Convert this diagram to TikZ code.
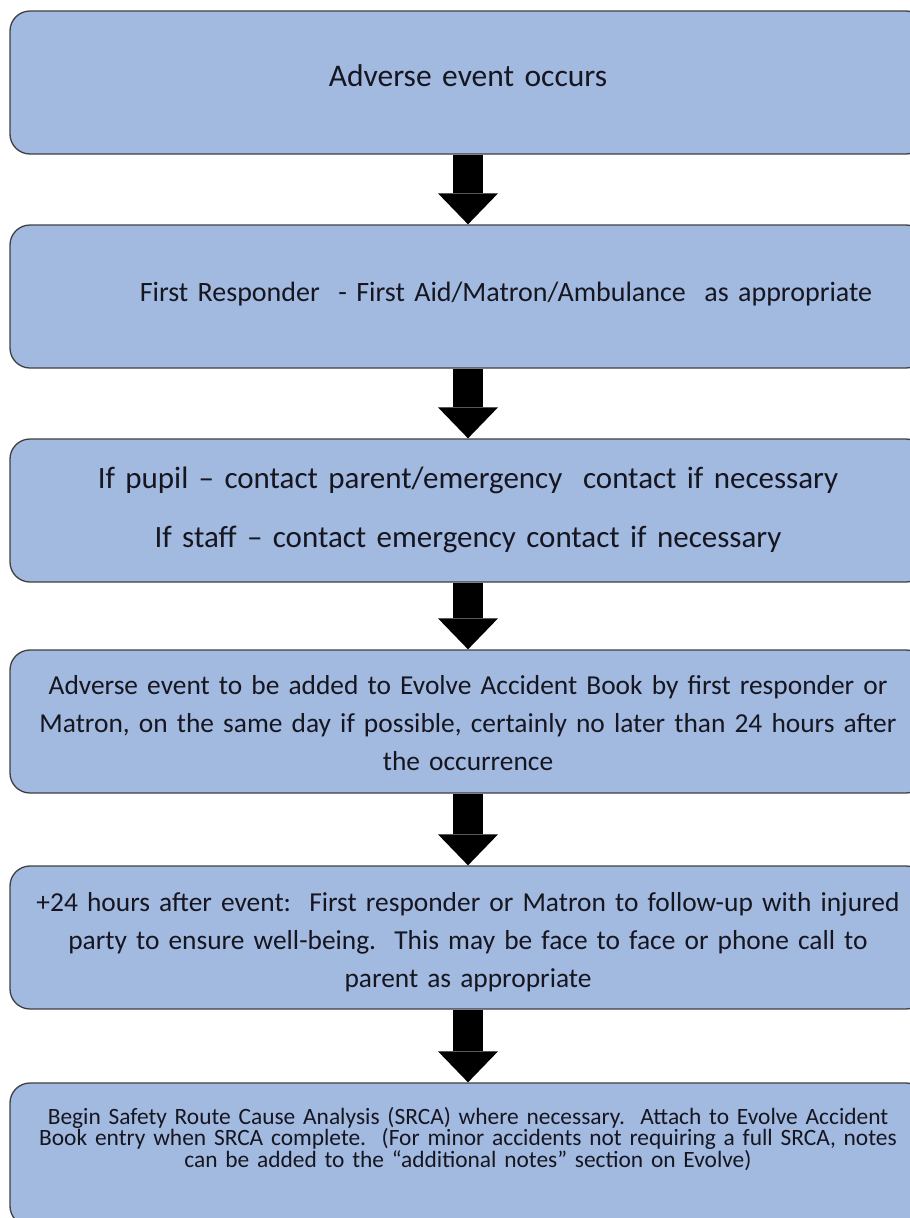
\documentclass[tikz,border=0pt]{standalone}
\usepackage{fontspec}
\setmainfont{Carlito}
\usepackage{tikz}
\usetikzlibrary{positioning,arrows.meta}

\definecolor{boxblue}{RGB}{162,185,224}
\definecolor{boxline}{RGB}{64,64,64}
\definecolor{textdark}{RGB}{22,22,32}

\tikzset{
  stepbox/.style={draw=boxline, line width=1.3pt, fill=boxblue, rounded corners=20pt,
    minimum width=916pt, minimum height=143pt, text width=904pt, inner sep=0pt,
    align=center, text=textdark},
  occurtext/.style={font=\fontsize{31.5}{36}\selectfont},
  respondtext/.style={font=\fontsize{28}{36}\selectfont},
  contacttext/.style={font=\fontsize{31}{36}\selectfont},
  midtext/.style={font=\fontsize{27.4}{38}\selectfont},
  smalltext/.style={font=\fontsize{23.4}{21.5}\selectfont, execute at begin node={\lineskiplimit=-20pt\relax}},
  downarrow/.style={line width=30pt, -{Triangle[width=60pt,length=31pt,line width=0pt]}}
}

\begin{document}
\begin{tikzpicture}[x=1pt,y=-1pt]
\useasboundingbox (0,0) rectangle (910,1218);
\clip (0,0) rectangle (910,1218);
\node[stepbox, occurtext] (occurs) at (468,82.5) {\rule{0pt}{30pt}Adverse event occurs\rule[-22pt]{0pt}{22pt}};
\node[stepbox, respondtext] (responder) at (468,296.5) {\rule{0pt}{30pt}\hspace*{76pt}First Responder\ \ - First Aid/Matron/Ambulance\ \ as appropriate\rule[-21pt]{0pt}{21pt}};
\node[stepbox, contacttext] (contact) at (468,510.5) {\rule{0pt}{30pt}If pupil -- contact parent/emergency\ \ contact if necessary\\[23pt]
  If staff -- contact emergency\ contact if necessary\rule[-16pt]{0pt}{16pt}};
\node[stepbox, midtext] (book) at (468,721.5) {\rule{0pt}{30pt}Adverse event to be added to Evolve Accident Book by first responder or\\
  Matron, on the same day if possible, certainly no later than 24 hours after\\
  the occurrence\rule[-8pt]{0pt}{8pt}};
\node[stepbox, midtext] (followup) at (468,937.5) {\rule{0pt}{30pt}+24 hours after event:\ \ First responder or Matron to follow-up with injured\\
  party to ensure well-being.\ \ This may be face to face or phone call to\\
  parent as appropriate\rule[-7pt]{0pt}{7pt}};
\node[stepbox, smalltext] (srca) at (468,1154.5) {\rule{0pt}{20pt}Begin Safety Route Cause Analysis (SRCA) where necessary.\ \ Attach to Evolve Accident\\
  Book entry when SRCA complete.\ \ (For minor accidents not requiring a full SRCA, notes\\
  can be added to the ``additional notes'' section on Evolve)\rule[-38pt]{0pt}{38pt}};
\draw[downarrow] (occurs) -- (responder);
\draw[downarrow] (responder) -- (contact);
\draw[downarrow] (contact) -- (book);
\draw[downarrow] (book) -- (followup);
\draw[downarrow] (followup) -- (srca);
\end{tikzpicture}
\end{document}
